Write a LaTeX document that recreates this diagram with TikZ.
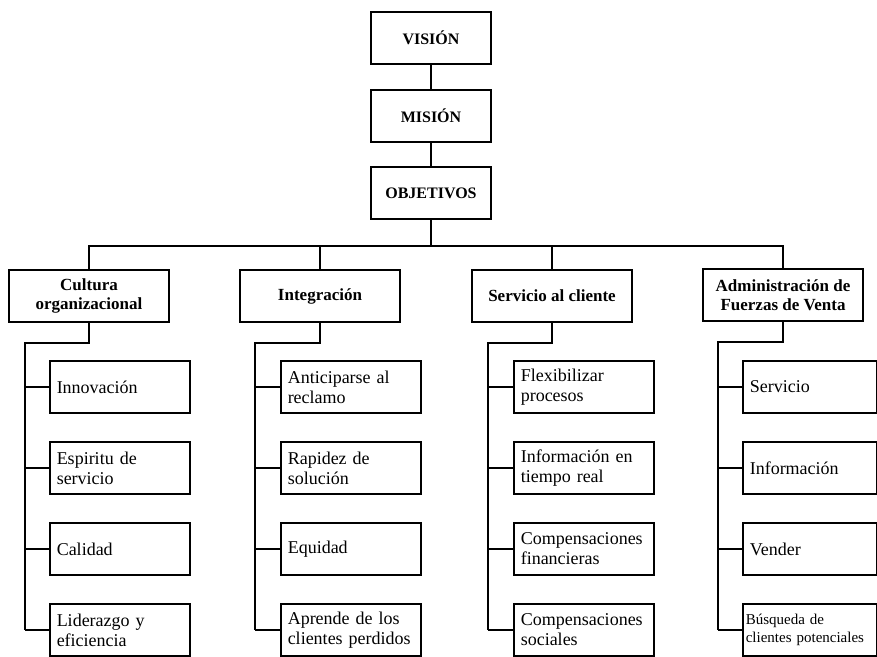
\documentclass[tikz,border=0pt]{standalone}
\usepackage{fontspec}
\setmainfont{Liberation Serif}
\usetikzlibrary{positioning}
\tikzset{
  box/.style={draw=black, line width=1.5pt, minimum height=52pt, inner sep=0pt},
  topbox/.style={box, minimum width=120pt, font=\fontsize{16}{18}\selectfont\bfseries},
  areabox/.style={box, minimum width=160pt, align=center, font=\fontsize{17}{19}\selectfont\bfseries},
  itembox/.style={box, text width=126pt, inner xsep=7pt, align=left, font=\fontsize{18}{20}\selectfont},
  link/.style={draw=black, line width=1.2pt},
}

\begin{document}
\begin{tikzpicture}[x=1pt,y=-1pt]
\useasboundingbox (0,0) rectangle (877,656);
\fill[white] (0,0) rectangle (877,656);
\clip (0,0) rectangle (877,656);

% top of the chart
\node[topbox] (vision) at (431,38) {VISIÓN};
\node[topbox] (mision) at (431,116) {MISIÓN};
\node[topbox] (objetivos) at (431,193) {OBJETIVOS};
\draw[link] (vision) -- (mision);
\draw[link] (mision) -- (objetivos);

% four areas
\coordinate (bus) at (431,246);
\node[areabox] (cultura) at (89,296) {Cultura\\organizacional};
\node[areabox] (integracion) at (320,296) {Integración};
\node[areabox] (servicio) at (552,296) {Servicio al cliente};
\node[areabox] (admin) at (783,295) {Administración de\\Fuerzas de Venta};

\draw[link] (objetivos) -- (bus);
\draw[link] (cultura.north) |- (bus) -| (admin.north);
\draw[link] (integracion) -- (integracion |- bus);
\draw[link] (servicio) -- (servicio |- bus);

% Cultura organizacional
\foreach \i/\t in {1/Innovación, 2/{Espiritu de\\servicio}, 3/Calidad, 4/{Liderazgo y\\eficiencia}}{
  \node[itembox, anchor=west] (cultura-\i) at (49,306+81*\i) {\t};
}
\coordinate (cultura-spine) at (25,343);
\draw[link] (cultura.south) |- (cultura-spine) -- (cultura-spine |- cultura-4.west);
\foreach \i in {1,...,4}{\draw[link] (cultura-spine |- cultura-\i.west) -- (cultura-\i.west);}

% Integracion
\foreach \i/\t in {1/{Anticiparse al\\reclamo}, 2/{Rapidez de\\solución}, 3/Equidad, 4/{Aprende de los\\clientes perdidos}}{
  \node[itembox, anchor=west] (integracion-\i) at (280,306+81*\i) {\t};
}
\coordinate (integracion-spine) at (255,343);
\draw[link] (integracion.south) |- (integracion-spine) -- (integracion-spine |- integracion-4.west);
\foreach \i in {1,...,4}{\draw[link] (integracion-spine |- integracion-\i.west) -- (integracion-\i.west);}

% Servicio al cliente
\foreach \i/\t in {1/{Flexibilizar\\procesos}, 2/{Información en\\tiempo real}, 3/{Compensaciones\\financieras}, 4/{Compensaciones\\sociales}}{
  \node[itembox, anchor=west] (servicio-\i) at (513,306+81*\i) {\t};
}
\coordinate (servicio-spine) at (488,343);
\draw[link] (servicio.south) |- (servicio-spine) -- (servicio-spine |- servicio-4.west);
\foreach \i in {1,...,4}{\draw[link] (servicio-spine |- servicio-\i.west) -- (servicio-\i.west);}

% Administracion de Fuerzas de Venta
\foreach \i/\t in {1/Servicio, 2/Información, 3/Vender}{
  \node[itembox, text width=120pt, anchor=west] (admin-\i) at (742,306+81*\i) {\t};
}
\node[itembox, text width=128pt, inner xsep=3pt, anchor=west, font=\fontsize{15}{18}\selectfont]
  (admin-4) at (742,630) {Búsqueda de\\clientes potenciales};
\coordinate (admin-spine) at (718,342);
\draw[link] (admin.south) |- (admin-spine) -- (admin-spine |- admin-4.west);
\foreach \i in {1,...,4}{\draw[link] (admin-spine |- admin-\i.west) -- (admin-\i.west);}
\end{tikzpicture}
\end{document}
